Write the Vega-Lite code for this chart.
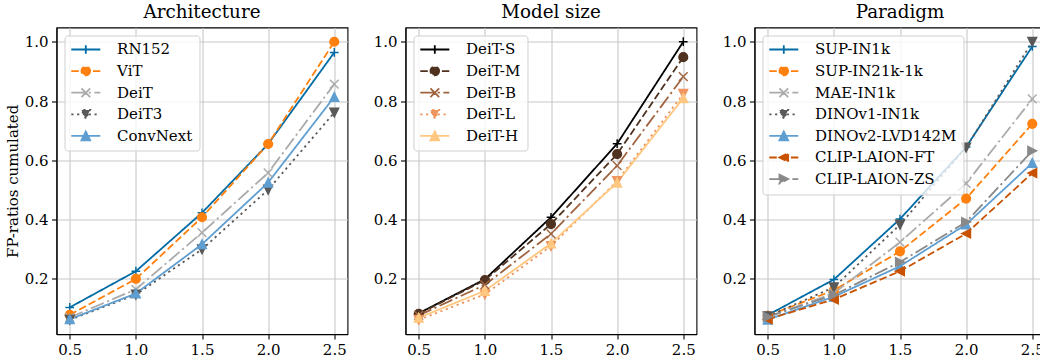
{
  "$schema": "https://vega.github.io/schema/vega-lite/v6.json",
  "background": "white",
  "padding": {"top": 2.5, "left": 4.5, "right": 0, "bottom": 0},
  "spacing": 58,
  "bounds": "flush",
  "datasets": {
    "arch": [
      {"model": "RN152", "x": 0.5, "ratio": 0.104}, {"model": "RN152", "x": 1.0, "ratio": 0.226}, {"model": "RN152", "x": 1.5, "ratio": 0.423}, {"model": "RN152", "x": 2.0, "ratio": 0.655}, {"model": "RN152", "x": 2.5, "ratio": 0.964},
      {"model": "ViT", "x": 0.5, "ratio": 0.079}, {"model": "ViT", "x": 1.0, "ratio": 0.2}, {"model": "ViT", "x": 1.5, "ratio": 0.408}, {"model": "ViT", "x": 2.0, "ratio": 0.655}, {"model": "ViT", "x": 2.5, "ratio": 1.0},
      {"model": "DeiT", "x": 0.5, "ratio": 0.07}, {"model": "DeiT", "x": 1.0, "ratio": 0.165}, {"model": "DeiT", "x": 1.5, "ratio": 0.356}, {"model": "DeiT", "x": 2.0, "ratio": 0.558}, {"model": "DeiT", "x": 2.5, "ratio": 0.857},
      {"model": "DeiT3", "x": 0.5, "ratio": 0.062}, {"model": "DeiT3", "x": 1.0, "ratio": 0.147}, {"model": "DeiT3", "x": 1.5, "ratio": 0.3}, {"model": "DeiT3", "x": 2.0, "ratio": 0.501}, {"model": "DeiT3", "x": 2.5, "ratio": 0.761},
      {"model": "ConvNext", "x": 0.5, "ratio": 0.064}, {"model": "ConvNext", "x": 1.0, "ratio": 0.151}, {"model": "ConvNext", "x": 1.5, "ratio": 0.317}, {"model": "ConvNext", "x": 2.0, "ratio": 0.525}, {"model": "ConvNext", "x": 2.5, "ratio": 0.814}
    ],
    "size": [
      {"model": "DeiT-S", "x": 0.5, "ratio": 0.084}, {"model": "DeiT-S", "x": 1.0, "ratio": 0.199}, {"model": "DeiT-S", "x": 1.5, "ratio": 0.408}, {"model": "DeiT-S", "x": 2.0, "ratio": 0.656}, {"model": "DeiT-S", "x": 2.5, "ratio": 1.0},
      {"model": "DeiT-M", "x": 0.5, "ratio": 0.082}, {"model": "DeiT-M", "x": 1.0, "ratio": 0.196}, {"model": "DeiT-M", "x": 1.5, "ratio": 0.385}, {"model": "DeiT-M", "x": 2.0, "ratio": 0.621}, {"model": "DeiT-M", "x": 2.5, "ratio": 0.948},
      {"model": "DeiT-B", "x": 0.5, "ratio": 0.077}, {"model": "DeiT-B", "x": 1.0, "ratio": 0.18}, {"model": "DeiT-B", "x": 1.5, "ratio": 0.352}, {"model": "DeiT-B", "x": 2.0, "ratio": 0.582}, {"model": "DeiT-B", "x": 2.5, "ratio": 0.882},
      {"model": "DeiT-L", "x": 0.5, "ratio": 0.062}, {"model": "DeiT-L", "x": 1.0, "ratio": 0.148}, {"model": "DeiT-L", "x": 1.5, "ratio": 0.311}, {"model": "DeiT-L", "x": 2.0, "ratio": 0.53}, {"model": "DeiT-L", "x": 2.5, "ratio": 0.824},
      {"model": "DeiT-H", "x": 0.5, "ratio": 0.069}, {"model": "DeiT-H", "x": 1.0, "ratio": 0.16}, {"model": "DeiT-H", "x": 1.5, "ratio": 0.32}, {"model": "DeiT-H", "x": 2.0, "ratio": 0.525}, {"model": "DeiT-H", "x": 2.5, "ratio": 0.81}
    ],
    "para": [
      {"model": "SUP-IN1k", "x": 0.5, "ratio": 0.078}, {"model": "SUP-IN1k", "x": 1.0, "ratio": 0.198}, {"model": "SUP-IN1k", "x": 1.5, "ratio": 0.402}, {"model": "SUP-IN1k", "x": 2.0, "ratio": 0.645}, {"model": "SUP-IN1k", "x": 2.5, "ratio": 0.984},
      {"model": "SUP-IN21k-1k", "x": 0.5, "ratio": 0.076}, {"model": "SUP-IN21k-1k", "x": 1.0, "ratio": 0.162}, {"model": "SUP-IN21k-1k", "x": 1.5, "ratio": 0.293}, {"model": "SUP-IN21k-1k", "x": 2.0, "ratio": 0.471}, {"model": "SUP-IN21k-1k", "x": 2.5, "ratio": 0.723},
      {"model": "MAE-IN1k", "x": 0.5, "ratio": 0.072}, {"model": "MAE-IN1k", "x": 1.0, "ratio": 0.152}, {"model": "MAE-IN1k", "x": 1.5, "ratio": 0.324}, {"model": "MAE-IN1k", "x": 2.0, "ratio": 0.522}, {"model": "MAE-IN1k", "x": 2.5, "ratio": 0.807},
      {"model": "DINOv1-IN1k", "x": 0.5, "ratio": 0.074}, {"model": "DINOv1-IN1k", "x": 1.0, "ratio": 0.172}, {"model": "DINOv1-IN1k", "x": 1.5, "ratio": 0.383}, {"model": "DINOv1-IN1k", "x": 2.0, "ratio": 0.643}, {"model": "DINOv1-IN1k", "x": 2.5, "ratio": 1.0},
      {"model": "DINOv2-LVD142M", "x": 0.5, "ratio": 0.063}, {"model": "DINOv2-LVD142M", "x": 1.0, "ratio": 0.14}, {"model": "DINOv2-LVD142M", "x": 1.5, "ratio": 0.243}, {"model": "DINOv2-LVD142M", "x": 2.0, "ratio": 0.384}, {"model": "DINOv2-LVD142M", "x": 2.5, "ratio": 0.591},
      {"model": "CLIP-LAION-FT", "x": 0.5, "ratio": 0.064}, {"model": "CLIP-LAION-FT", "x": 1.0, "ratio": 0.131}, {"model": "CLIP-LAION-FT", "x": 1.5, "ratio": 0.226}, {"model": "CLIP-LAION-FT", "x": 2.0, "ratio": 0.353}, {"model": "CLIP-LAION-FT", "x": 2.5, "ratio": 0.557},
      {"model": "CLIP-LAION-ZS", "x": 0.5, "ratio": 0.072}, {"model": "CLIP-LAION-ZS", "x": 1.0, "ratio": 0.146}, {"model": "CLIP-LAION-ZS", "x": 1.5, "ratio": 0.257}, {"model": "CLIP-LAION-ZS", "x": 2.0, "ratio": 0.392}, {"model": "CLIP-LAION-ZS", "x": 2.5, "ratio": 0.632}
    ]
  },
  "hconcat": [
    {
      "title": "Architecture",
      "width": 291, "height": 306.6,
      "data": {"name": "arch"},
      "encoding": {
        "x": {"field": "x", "type": "quantitative", "scale": {"domain": [0.4, 2.6], "nice": false, "zero": false}, "axis": {"values": [0.5, 1, 1.5, 2, 2.5], "format": ".1f", "title": null}},
        "y": {"field": "ratio", "type": "quantitative", "scale": {"domain": [0.014, 1.048], "nice": false, "zero": false}, "axis": {"values": [0.2, 0.4, 0.6, 0.8, 1.0], "format": ".1f", "title": "FP-ratios cumulated"}}
      },
      "layer": [
        {
          "mark": {"type": "line", "strokeWidth": 1.8},
          "encoding": {
            "color": {"field": "model", "type": "nominal", "scale": {"domain": ["RN152", "ViT", "DeiT", "DeiT3", "ConvNext"], "range": ["#006BA4", "#FF800E", "#ABABAB", "#595959", "#5F9ED1"]},
              "legend": {
                "encode": {"symbols": {"update": {
                  "shape": {"signal": "['M-3.33,0L3.33,0M-1,0L1,0M0,-1L0,1','M-3.33,0L3.33,0M1,0A1,1,0,1,1,-1,0A1,1,0,1,1,1,0Z','M-3.33,0L3.33,0M-1,-1L1,1M-1,1L1,-1','M-3.33,0L3.33,0M0,1L-1,-1L1,-1Z','M-3.33,0L3.33,0M0,-1L-1,1L1,1Z'][indexof(['RN152','ViT','DeiT','DeiT3','ConvNext'], datum.value)]"},
                  "fill": {"signal": "['transparent','#FF800E','transparent','#595959','#5F9ED1'][indexof(['RN152','ViT','DeiT','DeiT3','ConvNext'], datum.value)]"},
                  "stroke": {"signal": "['#006BA4','#FF800E','#ABABAB','#595959','#5F9ED1'][indexof(['RN152','ViT','DeiT','DeiT3','ConvNext'], datum.value)]"},
                  "strokeDash": {"signal": "[[1,0],[7.5,3.3],[13.9,3.5,2.2,3.5],[2.2,3.6],[1,0]][indexof(['RN152','ViT','DeiT','DeiT3','ConvNext'], datum.value)]"}
                }}}
              }
            },
            "strokeDash": {"field": "model", "type": "nominal", "scale": {"domain": ["RN152", "ViT", "DeiT", "DeiT3", "ConvNext"], "range": [[1, 0], [7.5, 3.3], [13.9, 3.5, 2.2, 3.5], [2.2, 3.6], [1, 0]]}, "legend": null}
          }
        },
        {
          "mark": {"type": "point", "filled": true, "opacity": 1, "size": 76, "strokeWidth": 1.45},
          "encoding": {
            "shape": {"field": "model", "type": "nominal", "scale": {"domain": ["ConvNext", "DeiT3", "DeiT", "ViT", "RN152"], "range": ["M0,-1L-1,1L1,1Z", "M0,1L-1,-1L1,-1Z", "M-1,-1L1,1M-1,1L1,-1", "M1,0A1,1,0,1,1,-1,0A1,1,0,1,1,1,0Z", "M-1,0L1,0M0,-1L0,1"]}, "legend": null},
            "fill": {"field": "model", "type": "nominal", "scale": {"domain": ["RN152", "ViT", "DeiT", "DeiT3", "ConvNext"], "range": ["transparent", "#FF800E", "transparent", "#595959", "#5F9ED1"]}, "legend": null},
            "stroke": {"field": "model", "type": "nominal", "scale": {"domain": ["RN152", "ViT", "DeiT", "DeiT3", "ConvNext"], "range": ["#006BA4", "#FF800E", "#ABABAB", "#595959", "#5F9ED1"]}, "legend": null}
          }
        }
      ]
    },
    {
      "title": "Model size",
      "width": 291, "height": 306.6,
      "data": {"name": "size"},
      "encoding": {
        "x": {"field": "x", "type": "quantitative", "scale": {"domain": [0.4, 2.6], "nice": false, "zero": false}, "axis": {"values": [0.5, 1, 1.5, 2, 2.5], "format": ".1f", "title": null}},
        "y": {"field": "ratio", "type": "quantitative", "scale": {"domain": [0.014, 1.048], "nice": false, "zero": false}, "axis": {"values": [0.2, 0.4, 0.6, 0.8, 1.0], "format": ".1f", "title": null}}
      },
      "layer": [
        {
          "mark": {"type": "line", "strokeWidth": 1.8},
          "encoding": {
            "color": {"field": "model", "type": "nominal", "scale": {"domain": ["DeiT-S", "DeiT-M", "DeiT-B", "DeiT-L", "DeiT-H"], "range": ["#000000", "#503220", "#9f643f", "#ef955f", "#ffc77f"]},
              "legend": {
                "encode": {"symbols": {"update": {
                  "shape": {"signal": "['M-3.33,0L3.33,0M-1,0L1,0M0,-1L0,1','M-3.33,0L3.33,0M1,0A1,1,0,1,1,-1,0A1,1,0,1,1,1,0Z','M-3.33,0L3.33,0M-1,-1L1,1M-1,1L1,-1','M-3.33,0L3.33,0M0,1L-1,-1L1,-1Z','M-3.33,0L3.33,0M0,-1L-1,1L1,1Z'][indexof(['DeiT-S','DeiT-M','DeiT-B','DeiT-L','DeiT-H'], datum.value)]"},
                  "fill": {"signal": "['transparent','#503220','transparent','#ef955f','#ffc77f'][indexof(['DeiT-S','DeiT-M','DeiT-B','DeiT-L','DeiT-H'], datum.value)]"},
                  "stroke": {"signal": "['#000000','#503220','#9f643f','#ef955f','#ffc77f'][indexof(['DeiT-S','DeiT-M','DeiT-B','DeiT-L','DeiT-H'], datum.value)]"},
                  "strokeDash": {"signal": "[[1,0],[7.5,3.3],[13.9,3.5,2.2,3.5],[2.2,3.6],[1,0]][indexof(['DeiT-S','DeiT-M','DeiT-B','DeiT-L','DeiT-H'], datum.value)]"}
                }}}
              }
            },
            "strokeDash": {"field": "model", "type": "nominal", "scale": {"domain": ["DeiT-S", "DeiT-M", "DeiT-B", "DeiT-L", "DeiT-H"], "range": [[1, 0], [7.5, 3.3], [13.9, 3.5, 2.2, 3.5], [2.2, 3.6], [1, 0]]}, "legend": null}
          }
        },
        {
          "mark": {"type": "point", "filled": true, "opacity": 1, "size": 76, "strokeWidth": 1.45},
          "encoding": {
            "shape": {"field": "model", "type": "nominal", "scale": {"domain": ["DeiT-H", "DeiT-L", "DeiT-B", "DeiT-M", "DeiT-S"], "range": ["M0,-1L-1,1L1,1Z", "M0,1L-1,-1L1,-1Z", "M-1,-1L1,1M-1,1L1,-1", "M1,0A1,1,0,1,1,-1,0A1,1,0,1,1,1,0Z", "M-1,0L1,0M0,-1L0,1"]}, "legend": null},
            "fill": {"field": "model", "type": "nominal", "scale": {"domain": ["DeiT-S", "DeiT-M", "DeiT-B", "DeiT-L", "DeiT-H"], "range": ["transparent", "#503220", "transparent", "#ef955f", "#ffc77f"]}, "legend": null},
            "stroke": {"field": "model", "type": "nominal", "scale": {"domain": ["DeiT-S", "DeiT-M", "DeiT-B", "DeiT-L", "DeiT-H"], "range": ["#000000", "#503220", "#9f643f", "#ef955f", "#ffc77f"]}, "legend": null}
          }
        }
      ]
    },
    {
      "title": "Paradigm",
      "width": 291, "height": 306.6,
      "data": {"name": "para"},
      "encoding": {
        "x": {"field": "x", "type": "quantitative", "scale": {"domain": [0.4, 2.6], "nice": false, "zero": false}, "axis": {"values": [0.5, 1, 1.5, 2, 2.5], "format": ".1f", "title": null}},
        "y": {"field": "ratio", "type": "quantitative", "scale": {"domain": [0.014, 1.048], "nice": false, "zero": false}, "axis": {"values": [0.2, 0.4, 0.6, 0.8, 1.0], "format": ".1f", "title": null}}
      },
      "layer": [
        {
          "mark": {"type": "line", "strokeWidth": 1.8},
          "encoding": {
            "color": {"field": "model", "type": "nominal", "scale": {"domain": ["SUP-IN1k", "SUP-IN21k-1k", "MAE-IN1k", "DINOv1-IN1k", "DINOv2-LVD142M", "CLIP-LAION-FT", "CLIP-LAION-ZS"], "range": ["#006BA4", "#FF800E", "#ABABAB", "#595959", "#5F9ED1", "#C85200", "#898989"]},
              "legend": {
                "encode": {"symbols": {"update": {
                  "shape": {"signal": "['M-3.33,0L3.33,0M-1,0L1,0M0,-1L0,1','M-3.33,0L3.33,0M1,0A1,1,0,1,1,-1,0A1,1,0,1,1,1,0Z','M-3.33,0L3.33,0M-1,-1L1,1M-1,1L1,-1','M-3.33,0L3.33,0M0,1L-1,-1L1,-1Z','M-3.33,0L3.33,0M0,-1L-1,1L1,1Z','M-3.33,0L3.33,0M-1,0L1,-1L1,1Z','M-3.33,0L3.33,0M1,0L-1,-1L-1,1Z'][indexof(['SUP-IN1k','SUP-IN21k-1k','MAE-IN1k','DINOv1-IN1k','DINOv2-LVD142M','CLIP-LAION-FT','CLIP-LAION-ZS'], datum.value)]"},
                  "fill": {"signal": "['transparent','#FF800E','transparent','#595959','#5F9ED1','#C85200','#898989'][indexof(['SUP-IN1k','SUP-IN21k-1k','MAE-IN1k','DINOv1-IN1k','DINOv2-LVD142M','CLIP-LAION-FT','CLIP-LAION-ZS'], datum.value)]"},
                  "stroke": {"signal": "['#006BA4','#FF800E','#ABABAB','#595959','#5F9ED1','#C85200','#898989'][indexof(['SUP-IN1k','SUP-IN21k-1k','MAE-IN1k','DINOv1-IN1k','DINOv2-LVD142M','CLIP-LAION-FT','CLIP-LAION-ZS'], datum.value)]"},
                  "strokeDash": {"signal": "[[1,0],[7.5,3.3],[13.9,3.5,2.2,3.5],[2.2,3.6],[1,0],[7.5,3.3],[13.9,3.5,2.2,3.5]][indexof(['SUP-IN1k','SUP-IN21k-1k','MAE-IN1k','DINOv1-IN1k','DINOv2-LVD142M','CLIP-LAION-FT','CLIP-LAION-ZS'], datum.value)]"}
                }}}
              }
            },
            "strokeDash": {"field": "model", "type": "nominal", "scale": {"domain": ["SUP-IN1k", "SUP-IN21k-1k", "MAE-IN1k", "DINOv1-IN1k", "DINOv2-LVD142M", "CLIP-LAION-FT", "CLIP-LAION-ZS"], "range": [[1, 0], [7.5, 3.3], [13.9, 3.5, 2.2, 3.5], [2.2, 3.6], [1, 0], [7.5, 3.3], [13.9, 3.5, 2.2, 3.5]]}, "legend": null}
          }
        },
        {
          "mark": {"type": "point", "filled": true, "opacity": 1, "size": 76, "strokeWidth": 1.45},
          "encoding": {
            "shape": {"field": "model", "type": "nominal", "scale": {"domain": ["CLIP-LAION-ZS", "CLIP-LAION-FT", "DINOv2-LVD142M", "DINOv1-IN1k", "MAE-IN1k", "SUP-IN21k-1k", "SUP-IN1k"], "range": ["M1,0L-1,-1L-1,1Z", "M-1,0L1,-1L1,1Z", "M0,-1L-1,1L1,1Z", "M0,1L-1,-1L1,-1Z", "M-1,-1L1,1M-1,1L1,-1", "M1,0A1,1,0,1,1,-1,0A1,1,0,1,1,1,0Z", "M-1,0L1,0M0,-1L0,1"]}, "legend": null},
            "fill": {"field": "model", "type": "nominal", "scale": {"domain": ["SUP-IN1k", "SUP-IN21k-1k", "MAE-IN1k", "DINOv1-IN1k", "DINOv2-LVD142M", "CLIP-LAION-FT", "CLIP-LAION-ZS"], "range": ["transparent", "#FF800E", "transparent", "#595959", "#5F9ED1", "#C85200", "#898989"]}, "legend": null},
            "stroke": {"field": "model", "type": "nominal", "scale": {"domain": ["SUP-IN1k", "SUP-IN21k-1k", "MAE-IN1k", "DINOv1-IN1k", "DINOv2-LVD142M", "CLIP-LAION-FT", "CLIP-LAION-ZS"], "range": ["#006BA4", "#FF800E", "#ABABAB", "#595959", "#5F9ED1", "#C85200", "#898989"]}, "legend": null}
          }
        }
      ]
    }
  ],
  "resolve": {
    "scale": {"x": "independent", "y": "independent", "color": "independent", "strokeDash": "independent", "shape": "independent", "fill": "independent", "stroke": "independent"},
    "legend": {"color": "independent"}
  },
  "config": {
    "font": "DejaVu Serif",
    "view": {"stroke": "black", "strokeWidth": 1.1},
    "title": {"font": "DejaVu Serif", "fontSize": 18.3, "fontWeight": "normal", "color": "black", "offset": 5, "baseline": "alphabetic", "anchor": "middle"},
    "axis": {
      "labelFont": "DejaVu Serif", "labelFontSize": 15, "labelColor": "black",
      "titleFont": "DejaVu Serif", "titleFontSize": 15, "titleFontWeight": "normal", "titleColor": "black", "titlePadding": 4,
      "tickColor": "black", "tickSize": 5, "tickWidth": 1.1,
      "domainColor": "black", "domainWidth": 1.1,
      "gridColor": "#c8c8c8", "gridWidth": 1.1,
      "labelPadding": 3.5
    },
    "legend": {
      "orient": "top-left", "offset": 7.5, "padding": 6.5, "title": null,
      "labelFont": "DejaVu Serif", "labelFontSize": 15, "labelColor": "black",
      "symbolSize": 76, "symbolStrokeWidth": 1.8, "symbolOffset": 7.3, "labelOffset": 23.8, "rowPadding": 4.6,
      "fillColor": "rgba(255,255,255,0.8)", "strokeColor": "#d0d0d0", "cornerRadius": 3
    }
  }
}
